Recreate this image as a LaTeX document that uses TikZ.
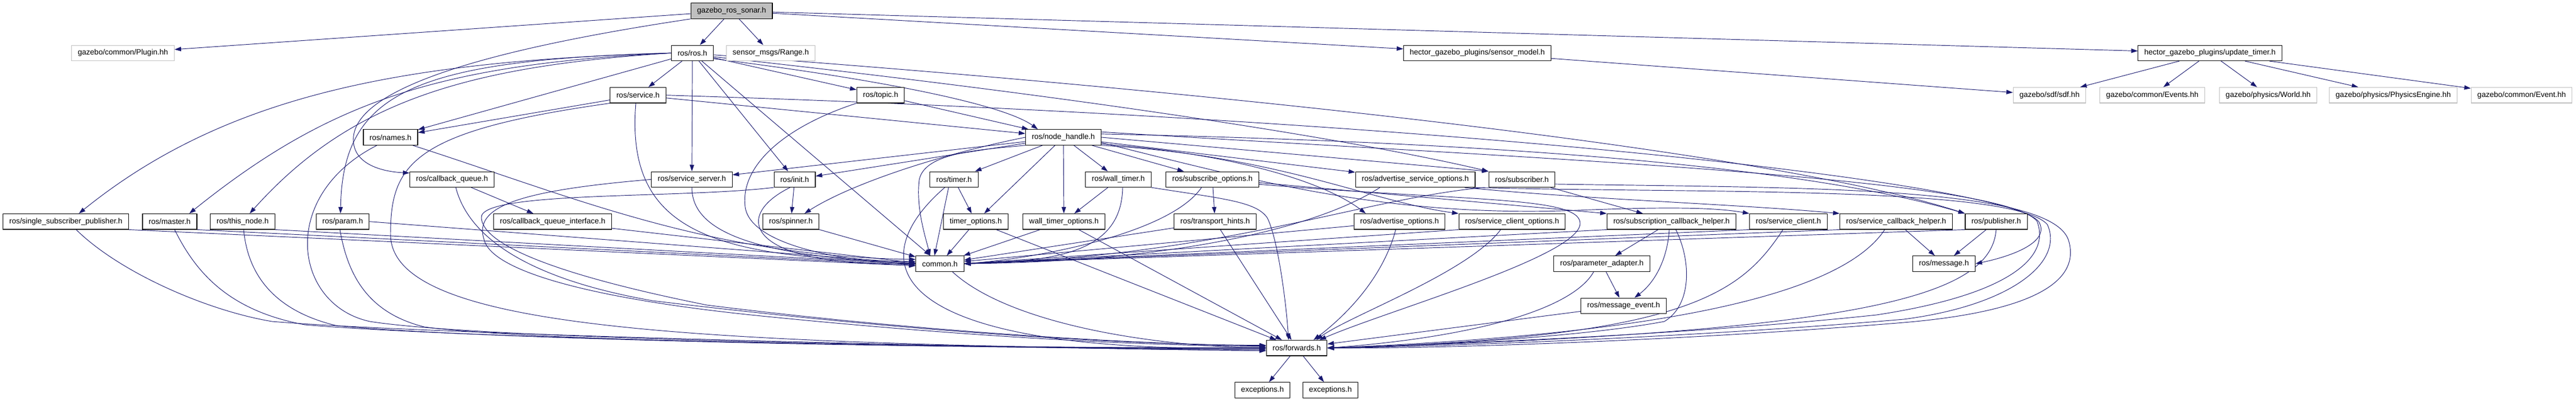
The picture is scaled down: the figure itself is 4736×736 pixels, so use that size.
\documentclass[tikz,border=0pt]{standalone}
\usepackage{fontspec}
\setmainfont{Liberation Sans}
\usetikzlibrary{arrows.meta}
\definecolor{edgeblue}{RGB}{25,25,112}
\definecolor{nofile}{RGB}{191,191,191}
\pgfdeclarelayer{bg}
\pgfsetlayers{bg,main}
\begin{document}
\begin{tikzpicture}[x=1pt,y=-1pt,
  hbox/.style={draw=black,line width=1.1pt,fill=white,inner xsep=11.5pt,inner ysep=0pt,minimum height=28.5pt,font=\fontsize{14pt}{16pt}\selectfont},
  gbox/.style={hbox,draw=nofile},
  rbox/.style={hbox,fill=nofile},
  dep/.style={draw=edgeblue,line width=0.95pt,-{Triangle[length=12pt,width=8pt]}}]
\useasboundingbox (0,0) rectangle (4736,736);
% ---------------- nodes ----------------
\node[rbox] (root) at (1345,20) {gazebo\_ros\_sonar.h};
\node[gbox] (plugin) at (226,97.3) {gazebo/common/Plugin.hh};
\node[hbox] (rosh) at (1273,97.3) {ros/ros.h};
\node[gbox] (range) at (1417,97.3) {sensor\_msgs/Range.h};
\node[hbox] (smodel) at (2716,97.3) {hector\_gazebo\_plugins/sensor\_model.h};
\node[hbox] (utimer) at (4063,97.3) {hector\_gazebo\_plugins/update\_timer.h};
\node[gbox] (sdf) at (3768,174.7) {gazebo/sdf/sdf.hh};
\node[gbox] (events) at (3957,174.7) {gazebo/common/Events.hh};
\node[gbox] (world) at (4170,174.7) {gazebo/physics/World.hh};
\node[gbox] (physeng) at (4400,174.7) {gazebo/physics/PhysicsEngine.hh};
\node[gbox] (event) at (4636,174.7) {gazebo/common/Event.hh};
\node[hbox] (service) at (1173,174.7) {ros/service.h};
\node[hbox] (topic) at (1619,174.7) {ros/topic.h};
\node[hbox] (names) at (718,252) {ros/names.h};
\node[hbox] (nh) at (1955,252) {ros/node\_handle.h};
\node[hbox] (cbq) at (831,329.3) {ros/callback\_queue.h};
\node[hbox] (sserver) at (1272,329.3) {ros/service\_server.h};
\node[hbox] (init) at (1461,329.3) {ros/init.h};
\node[hbox] (timer) at (1754,329.3) {ros/timer.h};
\node[hbox] (wtimer) at (2056,329.3) {ros/wall\_timer.h};
\node[hbox] (subopt) at (2229,329.3) {ros/subscribe\_options.h};
\node[hbox] (aso) at (2602,329.3) {ros/advertise\_service\_options.h};
\node[hbox] (subscriber) at (2798,329.3) {ros/subscriber.h};
\node[hbox] (ssp) at (121,406.7) {ros/single\_subscriber\_publisher.h};
\node[hbox] (master) at (312,406.7) {ros/master.h};
\node[hbox] (thisnode) at (446,406.7) {ros/this\_node.h};
\node[hbox] (param) at (630,406.7) {ros/param.h};
\node[hbox] (cbqi) at (1016,406.7) {ros/callback\_queue\_interface.h};
\node[hbox] (spinner) at (1454,406.7) {ros/spinner.h};
\node[hbox] (topt) at (1794,406.7) {timer\_options.h};
\node[hbox] (wtopt) at (1956,406.7) {wall\_timer\_options.h};
\node[hbox] (thints) at (2234,406.7) {ros/transport\_hints.h};
\node[hbox] (aopt) at (2573,406.7) {ros/advertise\_options.h};
\node[hbox] (scopt) at (2780,406.7) {ros/service\_client\_options.h};
\node[hbox] (sch) at (3073,406.7) {ros/subscription\_callback\_helper.h};
\node[hbox] (sclient) at (3288,406.7) {ros/service\_client.h};
\node[hbox] (servcbh) at (3486,406.7) {ros/service\_callback\_helper.h};
\node[hbox] (pub) at (3670,406.7) {ros/publisher.h};
\node[hbox] (common) at (1728,484) {common.h};
\node[hbox] (padapt) at (2945,484) {ros/parameter\_adapter.h};
\node[hbox] (msg) at (3574,484) {ros/message.h};
\node[hbox] (mevent) at (2985,561.3) {ros/message\_event.h};
\node[hbox] (fwd) at (2384,638.7) {ros/forwards.h};
\node[hbox] (exca) at (2321,716) {exceptions.h};
\node[hbox] (excb) at (2446,716) {exceptions.h};
% ---------------- edges ----------------
\begin{pgfonlayer}{bg}
\fill[white] (0,0) rectangle (4736,736);
% root
\draw[dep] (root) -- (plugin);
\draw[dep] (root) -- (rosh);
\draw[dep] (root) -- (range);
\draw[dep] (root) -- (smodel);
\draw[dep] (root) -- (utimer);
\draw[dep] (root.south west) .. controls (900,90) and (660,160) .. (650,250) .. controls (645,300) and (700,315) .. ([yshift=-3pt]cbq.north west);
% hector
\draw[dep] (smodel) -- (sdf);
\draw[dep] (utimer) -- (sdf);
\draw[dep] (utimer) -- (events);
\draw[dep] (utimer) -- (world);
\draw[dep] (utimer) -- (physeng);
\draw[dep] (utimer) -- (event);
% ros.h
\draw[dep] (rosh.west) .. controls (750,112) and (420,170) .. ([xshift=24pt]ssp.north);
\draw[dep] (rosh.west) .. controls (800,118) and (600,190) .. ([xshift=36pt]master.north);
\draw[dep] (rosh.west) .. controls (850,122) and (640,190) .. ([xshift=13pt]thisnode.north);
\draw[dep] (rosh.west) .. controls (760,110) and (630,170) .. ([xshift=-4pt]param.north);
\draw[dep] (rosh) -- (names);
\draw[dep] (rosh) -- (service);
\draw[dep] (rosh) -- (sserver);
\draw[dep] (rosh) -- (init);
\draw[dep] (rosh) -- (common);
\draw[dep] (rosh) -- (topic);
\draw[dep] (rosh.-15) .. controls (1650,150) and (1850,195) .. ([xshift=-47pt]nh.north);
\draw[dep] (rosh.-10) .. controls (2100,190) and (2550,270) .. (subscriber.north west);
\draw[dep] (rosh.-5) .. controls (2400,180) and (3300,290) .. (pub.north west);
% service
\draw[dep] (service) -- (names);
\draw[dep] (service) -- (nh);
\draw[dep] ([xshift=-4pt]service.south) .. controls (1150,420) and (1300,475) .. (common.175);
\draw[dep] (service.south west) .. controls (760,240) and (718,300) .. (718,430) .. controls (718,610) and (1300,630) .. (fwd.185);
\draw[dep] (service.east) .. controls (2700,220) and (3725,340) .. (3750,410) .. controls (3766,445) and (3700,470) .. (msg.east);
% topic
\draw[dep] (topic) -- (nh);
\draw[dep] (topic.south west) .. controls (1450,230) and (1360,300) .. (1370,380) .. controls (1380,450) and (1550,480) .. (common.west);
% names
\draw[dep] (names.-20) .. controls (1050,360) and (1300,470) .. (common.170);
\draw[dep] ([xshift=-25pt]names.south) .. controls (510,360) and (540,560) .. (680,590) .. controls (900,625) and (1900,640) .. (fwd.180);
% callback queue
\draw[dep] (cbq) -- (cbqi);
\draw[dep] ([xshift=7pt]cbq.south) .. controls (860,430) and (960,510) .. (1200,552) .. controls (1600,600) and (2000,632) .. (fwd.175);
\draw[dep] (cbqi) -- (common.178);
% left row
\draw[dep] (ssp.south east) -- (common.185);
\draw[dep] (master.south east) -- (common.183);
\draw[dep] (thisnode.south east) -- (common.181);
\draw[dep] (param.east) -- (common.179);
\draw[dep] ([xshift=19pt]ssp.south) .. controls (220,500) and (380,570) .. (500,590) .. controls (800,615) and (1900,640) .. (fwd.185);
\draw[dep] ([xshift=9pt]master.south) .. controls (360,500) and (420,570) .. (560,596) .. controls (900,625) and (1900,640) .. (fwd.183);
\draw[dep] ([xshift=2pt]thisnode.south) .. controls (455,500) and (500,570) .. (620,598) .. controls (950,628) and (1900,640) .. (fwd.181);
\draw[dep] ([xshift=-5pt]param.south) .. controls (640,510) and (680,575) .. (780,600) .. controls (1000,630) and (1900,640) .. (fwd.179);
% service server / init / spinner
\draw[dep] (sserver.south) .. controls (1272,430) and (1400,470) .. (common.west);
\draw[dep] (sserver.west) .. controls (950,350) and (870,380) .. (890,440) .. controls (905,500) and (1100,550) .. (1400,580) .. controls (1800,620) and (2100,634) .. (fwd.177);
\draw[dep] (init) -- (spinner);
\draw[dep] (init.-120) .. controls (1340,400) and (1380,490) .. (common.west);
\draw[dep] (init.south west) .. controls (1250,365) and (880,350) .. (885,400) .. controls (888,445) and (1000,500) .. (1300,560) .. controls (1700,610) and (2100,632) .. (fwd.176);
\draw[dep] (spinner) -- (common);
% node handle
\draw[dep] (nh) -- (sserver);
\draw[dep] (nh) -- (init);
\draw[dep] (nh.west) .. controls (1720,285) and (1560,340) .. ([xshift=25pt]spinner.north);
\draw[dep] (nh.south west) .. controls (1800,275) and (1700,280) .. (1690,330) .. controls (1684,380) and (1700,430) .. ([xshift=-18pt]common.north);
\draw[dep] (nh) -- (timer);
\draw[dep] (nh) -- (topt);
\draw[dep] (nh) -- (wtopt);
\draw[dep] (nh) -- (wtimer);
\draw[dep] (nh) -- (subopt);
\draw[dep] (nh) -- (aso);
\draw[dep] (nh.east) -- (subscriber.north west);
\draw[dep] (nh.-10) .. controls (2250,280) and (2430,330) .. ([xshift=-62pt]aopt.north);
\draw[dep] (nh.-12) .. controls (2350,285) and (2520,370) .. (scopt.north west);
\draw[dep] (nh.-8) .. controls (2300,330) and (2550,400) .. (2900,386) .. controls (3050,380) and (3150,380) .. (sclient.north west);
\draw[dep] (nh.5) .. controls (2700,260) and (3300,300) .. (pub.north west);
\draw[dep] (nh.8) .. controls (2800,290) and (3680,325) .. (3745,406) .. controls (3770,470) and (3700,540) .. (3450,578) .. controls (3100,615) and (2650,632) .. (fwd.east);
% timers
\draw[dep] (timer) -- (topt);
\draw[dep] ([xshift=-10pt]timer.south) -- ([xshift=-10pt]common.north);
\draw[dep] ([xshift=-17pt]timer.south) .. controls (1580,480) and (1620,650) .. (fwd.west);
\draw[dep] (topt) -- (common);
\draw[dep] (topt) -- (fwd);
\draw[dep] (wtimer) -- (wtopt);
\draw[dep] ([xshift=8pt]wtimer.south) .. controls (2062,460) and (1950,480) .. (common.east);
\draw[dep] (wtimer.south east) .. controls (2250,365) and (2310,370) .. (2330,400) .. controls (2350,440) and (2365,560) .. ([xshift=-15pt]fwd.north);
\draw[dep] (wtopt) -- (common);
\draw[dep] (wtopt) -- (fwd);
% subscribe options
\draw[dep] (subopt) -- (thints);
\draw[dep] ([xshift=-20pt]subopt.south) .. controls (2150,430) and (1900,475) .. (common.east);
\draw[dep] ([yshift=-6pt]subopt.east) -- (sch.north west);
\draw[dep] ([yshift=-9pt]subopt.east) .. controls (2700,370) and (2905,360) .. (2905,410) .. controls (2905,470) and (2550,570) .. ([xshift=42pt]fwd.north);
\draw[dep] (thints) -- (common);
\draw[dep] (thints) -- (fwd);
% advertise service options / subscriber
\draw[dep] ([xshift=-65pt]aso.south) .. controls (2420,420) and (2150,480) .. (common.east);
\draw[dep] ([xshift=-20pt]aso.south east) .. controls (2900,365) and (3200,375) .. (servcbh.north west);
\draw[dep] ([xshift=-5pt]aso.south east) .. controls (3100,355) and (3700,340) .. (3764,412) .. controls (3795,480) and (3700,560) .. (3500,586) .. controls (3100,620) and (2650,636) .. (fwd.east);
\draw[dep] ([xshift=-69pt]subscriber.south) .. controls (2500,365) and (2250,470) .. (common.east);
\draw[dep] (subscriber) -- (sch);
\draw[dep] (subscriber.-8) .. controls (3300,345) and (3770,340) .. (3803,441) .. controls (3830,530) and (3700,575) .. (3500,592) .. controls (3100,625) and (2650,640) .. (fwd.east);
% options row
\draw[dep] (aopt) -- (common);
\draw[dep] ([xshift=-7pt]aopt.south) .. controls (2540,520) and (2460,590) .. ([xshift=31pt]fwd.north);
\draw[dep] (scopt.south west) -- (common.east);
\draw[dep] ([xshift=-21pt]scopt.south) .. controls (2700,500) and (2480,580) .. ([xshift=36pt]fwd.north);
% subscription callback helper
\draw[dep] (sch) -- (padapt);
\draw[dep] ([xshift=-4pt]sch.south) .. controls (3065,480) and (3040,520) .. ([xshift=20pt]mevent.north);
\draw[dep] (sch.south west) -- (common.east);
\draw[dep] ([xshift=8pt]sch.south) .. controls (3110,480) and (3110,560) .. (3060,590) .. controls (2900,620) and (2600,635) .. (fwd.east);
% service client / callback helper / publisher
\draw[dep] (sclient.south west) -- (common.east);
\draw[dep] ([xshift=-10pt]sclient.south) .. controls (3200,540) and (3100,620) .. (fwd.east);
\draw[dep] (servcbh) -- (msg);
\draw[dep] (servcbh.south west) -- (common.east);
\draw[dep] ([xshift=-21pt]servcbh.south) .. controls (3400,520) and (3150,610) .. (fwd.east);
\draw[dep] (pub) -- (msg);
\draw[dep] (pub.south west) -- (common.east);
\draw[dep] (pub.south) .. controls (3660,540) and (3450,610) .. (fwd.east);
% parameter adapter / message event
\draw[dep] (padapt) -- (mevent);
\draw[dep] ([xshift=-15pt]padapt.south) .. controls (2890,570) and (2700,620) .. (fwd.east);
\draw[dep] (mevent) -- (fwd);
% common / forwards
\draw[dep] ([xshift=23pt]common.south) .. controls (1850,590) and (2100,635) .. (fwd.west);
\draw[dep] (fwd) -- (exca);
\draw[dep] (fwd) -- (excb);
\end{pgfonlayer}
\end{tikzpicture}
\end{document}
